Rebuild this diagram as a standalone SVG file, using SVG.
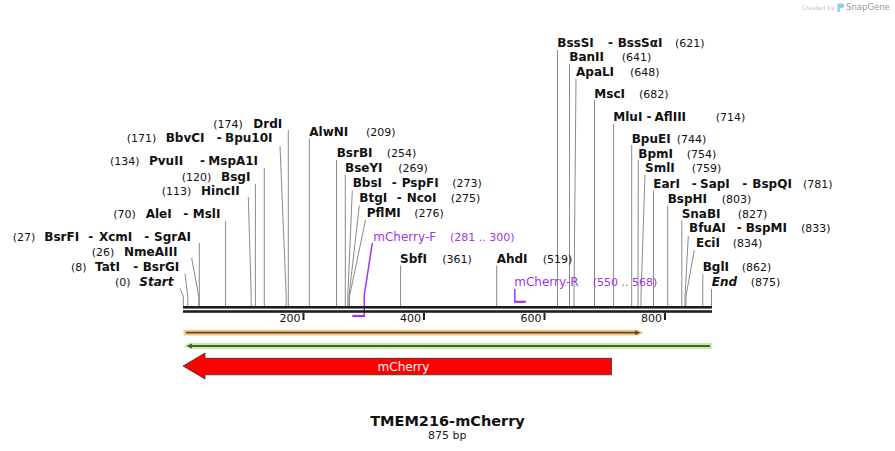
<svg xmlns="http://www.w3.org/2000/svg" width="895" height="451" viewBox="0 0 895 451">
<style>
text{font-family:"DejaVu Sans","Liberation Sans",sans-serif;fill:#111}
.n{font-size:12px;font-weight:bold}
.i{font-size:12px;font-weight:bold;font-style:italic}
.u{font-size:11px}
.p{font-size:12px;fill:#a035f0}
.pu{font-size:11px;fill:#a035f0}
.ln{stroke:#8a8a8a;stroke-width:1;fill:none}
.pl{stroke:#a035f0;stroke-width:1.5;fill:none}
.tk{font-size:11px;text-anchor:end}
</style>
<rect width="895" height="451" fill="#fff"/>
<g id="logo">
<text x="801.5" y="9.5" style="font-size:6px;fill:#c4c4c4">Created by</text>
<path d="M837.5 3.5h4.5a2.3 2.3 0 0 1 0 4.6h-2.2v3.8h-2.3z" fill="#8fcaf0"/>
<text x="846" y="9.5" style="font-size:8.5px;fill:#9a9a9a">SnapGene</text>
</g>
<g id="connectors">
<path class="ln" d="M288.3 130V306"/>
<path class="ln" d="M280 146L286.2 296V306"/>
<path class="ln" d="M264.3 168V306"/>
<path class="ln" d="M255.4 184V306"/>
<path class="ln" d="M248.3 197L251.2 296V306"/>
<path class="ln" d="M225.6 221V306"/>
<path class="ln" d="M199.3 243V306"/>
<path class="ln" d="M191.7 258L198.7 296V306"/>
<path class="ln" d="M185 273.5L187.8 296V306"/>
<path class="ln" d="M180 288.5L183.3 296V306"/>
<path class="ln" d="M309.3 138.5V306"/>
<path class="ln" d="M336.5 160V306"/>
<path class="ln" d="M345.3 175V306"/>
<path class="ln" d="M352.3 190.5L347.8 296V306"/>
<path class="ln" d="M359.3 205.5L349 296V306"/>
<path class="ln" d="M365.5 220L349.6 296V306"/>
<path class="ln" d="M400.6 265.5V306"/>
<path class="ln" d="M496.7 265.5V306"/>
<path class="ln" d="M557.5 50V306"/>
<path class="ln" d="M569.5 64V306"/>
<path class="ln" d="M576 79L574 296V306"/>
<path class="ln" d="M594.5 100V306"/>
<path class="ln" d="M613.6 124V306"/>
<path class="ln" d="M631.7 145V306"/>
<path class="ln" d="M638.3 160L638 296V306"/>
<path class="ln" d="M645 175L641 296V306"/>
<path class="ln" d="M653.5 190.5V306"/>
<path class="ln" d="M667.7 205.5V306"/>
<path class="ln" d="M681.8 220.5V306"/>
<path class="ln" d="M688.3 236L685 296V306"/>
<path class="ln" d="M694.3 250L686 296V306"/>
<path class="ln" d="M702.8 274V306"/>
<path class="ln" d="M711.5 289V306"/>
<path class="pl" d="M372.3 243L364.3 295V317"/>
<path d="M352.3 316H365" stroke="#a035f0" stroke-width="2.2"/>
<path class="pl" d="M514.8 289V302"/>
<path d="M514 301.8H525.8" stroke="#a035f0" stroke-width="2.2"/>
</g>
<g id="sequence">
<rect x="183" y="306" width="529" height="2.6" fill="#1e1e1e"/>
<rect x="183" y="310.2" width="529" height="2.6" fill="#1e1e1e"/>
<rect x="302.5" y="313" width="2" height="7" fill="#1e1e1e"/>
<rect x="423" y="313" width="2" height="7" fill="#1e1e1e"/>
<rect x="543.5" y="313" width="2" height="7" fill="#1e1e1e"/>
<rect x="664" y="313" width="2" height="7" fill="#1e1e1e"/>
<text class="tk" x="300.5" y="322">200</text>
<text class="tk" x="421" y="322">400</text>
<text class="tk" x="541.5" y="322">600</text>
<text class="tk" x="662" y="322">800</text>
</g>
<g id="feature-orange">
<path d="M183.5 329.8H638L643.5 332.7L638 335.6H183.5Z" fill="#f9c97d"/>
<path d="M186 332.7H636" stroke="#5a4a3a" stroke-width="1.8"/>
<path d="M635 330.3L640.5 332.7L635 335.1Z" fill="#5a4a3a"/>
</g>
<g id="feature-green">
<path d="M712 343H189L183.5 346L189 349H712Z" fill="#c2f29c"/>
<path d="M190 346H710" stroke="#4a5a3a" stroke-width="1.8"/>
<path d="M192 343.5L186.5 346L192 348.5Z" fill="#4a5a3a"/>
</g>
<g id="feature-mCherry">
<path d="M183 366L205 353V358.3H611.5V374.8H205V379Z" fill="#ff0000" stroke="#333" stroke-width="0.8"/>
<text x="403.5" y="370.5" text-anchor="middle" style="font-size:12px;fill:#fff">mCherry</text>
</g>
<g id="title">
<text x="447.5" y="426" text-anchor="middle" style="font-size:14.5px;font-weight:bold">TMEM216-mCherry</text>
<text x="447.3" y="438.5" text-anchor="middle" style="font-size:11px;fill:#222">875 bp</text>
</g>
<g id="site-DrdI"><text class="u" x="213.3" y="127.5">(174)</text><text class="n" x="253.3" y="127.5">DrdI</text></g>
<g id="site-BbvCI"><text class="u" x="126.7" y="142">(171)</text><text class="n" x="165.7" y="142">BbvCI</text><text class="n" x="216.7" y="142">-</text><text class="n" x="225" y="142">Bpu10I</text></g>
<g id="site-PvuII"><text class="u" x="110" y="165">(134)</text><text class="n" x="149" y="165">PvuII</text><text class="n" x="200" y="165">-</text><text class="n" x="208.3" y="165">MspA1I</text></g>
<g id="site-BsgI"><text class="u" x="181.7" y="181">(120)</text><text class="n" x="221" y="181">BsgI</text></g>
<g id="site-HincII"><text class="u" x="161.7" y="195">(113)</text><text class="n" x="201" y="195">HincII</text></g>
<g id="site-AleI"><text class="u" x="113.3" y="218.3">(70)</text><text class="n" x="145.7" y="218.3">AleI</text><text class="n" x="183.3" y="218.3">-</text><text class="n" x="192.7" y="218.3">MslI</text></g>
<g id="site-BsrFI"><text class="u" x="12.7" y="240.7">(27)</text><text class="n" x="44.3" y="240.7">BsrFI</text><text class="n" x="88.3" y="240.7">-</text><text class="n" x="99" y="240.7">XcmI</text><text class="n" x="144.3" y="240.7">-</text><text class="n" x="154" y="240.7">SgrAI</text></g>
<g id="site-NmeAIII"><text class="u" x="91.7" y="255.7">(26)</text><text class="n" x="124" y="255.7">NmeAIII</text></g>
<g id="site-TatI"><text class="u" x="71" y="270.7">(8)</text><text class="n" x="95" y="270.7">TatI</text><text class="n" x="133.3" y="270.7">-</text><text class="n" x="142.7" y="270.7">BsrGI</text></g>
<g id="site-Start"><text class="u" x="115" y="285.7">(0)</text><text class="i" x="139.3" y="285.7">Start</text></g>
<g id="site-AlwNI"><text class="n" x="309.3" y="135.7">AlwNI</text><text class="u" x="366" y="135.7">(209)</text></g>
<g id="site-BsrBI"><text class="n" x="336.7" y="157.3">BsrBI</text><text class="u" x="386.7" y="157.3">(254)</text></g>
<g id="site-BseYI"><text class="n" x="345" y="172.3">BseYI</text><text class="u" x="398.3" y="172.3">(269)</text></g>
<g id="site-BbsI"><text class="n" x="352.7" y="187.3">BbsI</text><text class="n" x="391.7" y="187.3">-</text><text class="n" x="401.7" y="187.3">PspFI</text><text class="u" x="452.3" y="187.3">(273)</text></g>
<g id="site-BtgI"><text class="n" x="359.3" y="202.3">BtgI</text><text class="n" x="396.7" y="202.3">-</text><text class="n" x="406.7" y="202.3">NcoI</text><text class="u" x="450.7" y="202.3">(275)</text></g>
<g id="site-PflMI"><text class="n" x="366.7" y="217.3">PflMI</text><text class="u" x="414.3" y="217.3">(276)</text></g>
<g id="primer-mCherry-F"><text class="p" x="373.3" y="240.7">mCherry-F</text><text class="pu" x="450" y="240.7">(281 .. 300)</text></g>
<g id="site-SbfI"><text class="n" x="400" y="262.7">SbfI</text><text class="u" x="442.3" y="262.7">(361)</text></g>
<g id="site-AhdI"><text class="n" x="496.7" y="262.7">AhdI</text><text class="u" x="542.7" y="262.7">(519)</text></g>
<g id="primer-mCherry-R"><text class="p" x="514.3" y="285.7">mCherry-R</text><text class="pu" x="592.7" y="285.7">(550 .. 568)</text></g>
<g id="site-BssSI"><text class="n" x="557.3" y="46.7">BssSI</text><text class="n" x="608" y="46.7">-</text><text class="n" x="617.7" y="46.7">BssSαI</text><text class="u" x="675" y="46.7">(621)</text></g>
<g id="site-BanII"><text class="n" x="569.3" y="61">BanII</text><text class="u" x="621.7" y="61">(641)</text></g>
<g id="site-ApaLI"><text class="n" x="576" y="76">ApaLI</text><text class="u" x="630" y="76">(648)</text></g>
<g id="site-MscI"><text class="n" x="594.3" y="97.5">MscI</text><text class="u" x="639" y="97.5">(682)</text></g>
<g id="site-MluI"><text class="n" x="613.3" y="121">MluI</text><text class="n" x="646.5" y="121">-</text><text class="n" x="654.5" y="121">AflIII</text><text class="u" x="715.7" y="121">(714)</text></g>
<g id="site-BpuEI"><text class="n" x="631.7" y="142.5">BpuEI</text><text class="u" x="676.7" y="142.5">(744)</text></g>
<g id="site-BpmI"><text class="n" x="638.3" y="157.5">BpmI</text><text class="u" x="686.7" y="157.5">(754)</text></g>
<g id="site-SmlI"><text class="n" x="645" y="172.3">SmlI</text><text class="u" x="691.7" y="172.3">(759)</text></g>
<g id="site-EarI"><text class="n" x="653.3" y="188">EarI</text><text class="n" x="691.7" y="188">-</text><text class="n" x="700" y="188">SapI</text><text class="n" x="742.3" y="188">-</text><text class="n" x="752.3" y="188">BspQI</text><text class="u" x="803" y="188">(781)</text></g>
<g id="site-BspHI"><text class="n" x="667.7" y="203">BspHI</text><text class="u" x="721.7" y="203">(803)</text></g>
<g id="site-SnaBI"><text class="n" x="681.7" y="217.5">SnaBI</text><text class="u" x="737.7" y="217.5">(827)</text></g>
<g id="site-BfuAI"><text class="n" x="689" y="232.3">BfuAI</text><text class="n" x="736.7" y="232.3">-</text><text class="n" x="745.7" y="232.3">BspMI</text><text class="u" x="801" y="232.3">(833)</text></g>
<g id="site-EciI"><text class="n" x="696" y="247.3">EciI</text><text class="u" x="732.7" y="247.3">(834)</text></g>
<g id="site-BglI"><text class="n" x="702.7" y="270.7">BglI</text><text class="u" x="741.7" y="270.7">(862)</text></g>
<g id="site-End"><text class="i" x="711.7" y="285.7">End</text><text class="u" x="750.7" y="285.7">(875)</text></g>
</svg>
